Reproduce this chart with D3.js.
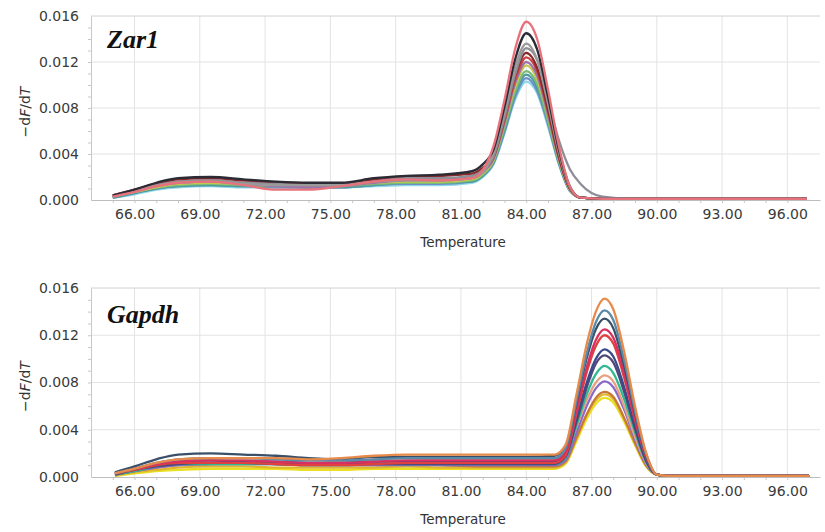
<!DOCTYPE html>
<html>
<head>
<meta charset="utf-8">
<script src="https://cdn.jsdelivr.net/npm/d3@7"></script>
<style>
  body{margin:0;background:#fff;}
  svg{font-family:"DejaVu Sans",sans-serif;}
</style>
</head>
<body>
<svg id="chart" width="825" height="532"></svg>
<script>
// tick labels
var xTickValues = [66, 69, 72, 75, 78, 81, 84, 87, 90, 93, 96];
var yTickValues = [0, 0.004, 0.008, 0.012, 0.016];

// Zar1 melt curves
var zarTemps = [65.0, 66, 67, 68, 69.5, 71, 72.5, 74, 75.5, 77, 78.5, 80, 81.5,
  82, 82.5, 83, 83.5, 84, 84.5, 85, 85.5, 86, 86.5, 87.5, 89, 96.9];
var zarColors = ["#8fd8e8", "#6f8fcc", "#4e9c9c", "#78bc78", "#c6c84e", "#9c74ac",
  "#c84444", "#8b2a2a", "#8e8e98", "#9a9a9a", "#2b2b35", "#e8727c"];
var zarValues = [
  [0.0002,0.0005,0.0009,0.0011,0.0012,0.0011,0.0011,0.0010,0.0011,0.0012,0.0013,0.0013,0.0015, 0.0020,0.0031,0.0058,0.0088,0.0103,0.0093,0.0064,0.0031,0.0008,0.0002,0.0001,0.0001,0.0001],
  [0.0002,0.0006,0.0010,0.0012,0.0013,0.0012,0.0011,0.0011,0.0011,0.0013,0.0014,0.0014,0.0016, 0.0021,0.0032,0.0059,0.0090,0.0106,0.0095,0.0066,0.0032,0.0008,0.0002,0.0001,0.0001,0.0001],
  [0.0002,0.0006,0.0010,0.0012,0.0013,0.0012,0.0012,0.0011,0.0011,0.0013,0.0015,0.0015,0.0016, 0.0021,0.0033,0.0061,0.0093,0.0109,0.0098,0.0068,0.0033,0.0009,0.0002,0.0001,0.0001,0.0001],
  [0.0003,0.0007,0.0011,0.0013,0.0014,0.0013,0.0012,0.0012,0.0012,0.0014,0.0015,0.0015,0.0017, 0.0022,0.0034,0.0063,0.0095,0.0112,0.0101,0.0069,0.0034,0.0009,0.0002,0.0001,0.0001,0.0001],
  [0.0003,0.0007,0.0011,0.0014,0.0015,0.0014,0.0013,0.0012,0.0013,0.0015,0.0016,0.0016,0.0018, 0.0023,0.0035,0.0066,0.0099,0.0117,0.0105,0.0073,0.0035,0.0009,0.0002,0.0001,0.0001,0.0001],
  [0.0003,0.0008,0.0012,0.0015,0.0016,0.0014,0.0012,0.0011,0.0012,0.0015,0.0017,0.0017,0.0019, 0.0024,0.0036,0.0067,0.0102,0.0120,0.0108,0.0074,0.0036,0.0010,0.0002,0.0001,0.0001,0.0001],
  [0.0003,0.0008,0.0013,0.0016,0.0017,0.0015,0.0014,0.0013,0.0014,0.0017,0.0018,0.0018,0.0021, 0.0026,0.0037,0.0069,0.0105,0.0124,0.0112,0.0077,0.0037,0.0010,0.0002,0.0001,0.0001,0.0001],
  [0.0004,0.0009,0.0014,0.0018,0.0019,0.0017,0.0015,0.0014,0.0014,0.0018,0.0020,0.0021,0.0023, 0.0028,0.0038,0.0072,0.0109,0.0128,0.0115,0.0079,0.0038,0.0010,0.0002,0.0001,0.0001,0.0001],
  [0.0003,0.0008,0.0013,0.0016,0.0017,0.0015,0.0014,0.0013,0.0013,0.0016,0.0019,0.0019,0.0021, 0.0026,0.0038,0.0072,0.0110,0.0132,0.0122,0.0087,0.0052,0.0027,0.0014,0.0003,0.0001,0.0001],
  [0.0003,0.0007,0.0012,0.0015,0.0016,0.0014,0.0013,0.0013,0.0013,0.0016,0.0017,0.0017,0.0019, 0.0024,0.0041,0.0076,0.0116,0.0136,0.0122,0.0084,0.0041,0.0011,0.0002,0.0001,0.0001,0.0001],
  [0.0004,0.0009,0.0015,0.0019,0.0020,0.0018,0.0016,0.0015,0.0015,0.0019,0.0021,0.0022,0.0025, 0.0031,0.0044,0.0081,0.0123,0.0145,0.0131,0.0090,0.0044,0.0012,0.0002,0.0001,0.0001,0.0001],
  [0.0003,0.0007,0.0012,0.0015,0.0016,0.0013,0.0009,0.0009,0.0012,0.0016,0.0018,0.0017,0.0019, 0.0026,0.0047,0.0087,0.0132,0.0155,0.0140,0.0096,0.0047,0.0012,0.0002,0.0001,0.0001,0.0001]
];

// Gapdh melt curves
var gapTemps = [65.1, 66, 67, 68, 69.5, 71, 72.5, 74, 75.5, 77, 78.5, 80, 82, 84, 85.3,
  85.8, 86.3, 86.8, 87.2, 87.6, 88.0, 88.5, 89.0, 89.5, 90.0, 90.5, 97.0];
var gapColors = ["#e8e020", "#e0b830", "#c8783a", "#8a6ac8", "#e8a080", "#30b890",
  "#504a7a", "#3a4a8a", "#e04040", "#d83060", "#3a5068", "#5a8aaa", "#e88a4a"];
var gapValues = [
  [0.0001,0.0003,0.0005,0.0006,0.0007,0.0007,0.0007,0.0006,0.0006,0.0007,0.0007,0.0007,0.0007,0.0007,0.0007, 0.0011,0.0030,0.0050,0.0062,0.0067,0.0063,0.0047,0.0027,0.0009,0.0002,0.0001,0.0001],
  [0.0001,0.0004,0.0006,0.0008,0.0009,0.0009,0.0008,0.0008,0.0008,0.0008,0.0009,0.0008,0.0008,0.0008,0.0008, 0.0012,0.0032,0.0053,0.0065,0.0070,0.0066,0.0049,0.0028,0.0010,0.0002,0.0001,0.0001],
  [0.0002,0.0005,0.0008,0.0010,0.0011,0.0012,0.0011,0.0010,0.0010,0.0010,0.0011,0.0010,0.0009,0.0009,0.0009, 0.0013,0.0033,0.0054,0.0067,0.0072,0.0068,0.0050,0.0029,0.0010,0.0002,0.0001,0.0001],
  [0.0002,0.0005,0.0008,0.0010,0.0011,0.0011,0.0011,0.0010,0.0010,0.0010,0.0010,0.0010,0.0010,0.0010,0.0010, 0.0014,0.0037,0.0061,0.0075,0.0081,0.0076,0.0057,0.0032,0.0011,0.0002,0.0001,0.0001],
  [0.0003,0.0007,0.0011,0.0013,0.0014,0.0013,0.0012,0.0012,0.0013,0.0015,0.0016,0.0015,0.0015,0.0015,0.0015, 0.0019,0.0042,0.0066,0.0080,0.0086,0.0081,0.0060,0.0034,0.0012,0.0002,0.0001,0.0001],
  [0.0002,0.0005,0.0009,0.0011,0.0011,0.0011,0.0011,0.0010,0.0010,0.0011,0.0011,0.0011,0.0011,0.0011,0.0011, 0.0016,0.0043,0.0071,0.0087,0.0094,0.0088,0.0066,0.0038,0.0013,0.0002,0.0001,0.0001],
  [0.0002,0.0006,0.0009,0.0011,0.0012,0.0012,0.0011,0.0011,0.0011,0.0011,0.0011,0.0011,0.0011,0.0011,0.0011, 0.0017,0.0046,0.0077,0.0096,0.0103,0.0097,0.0072,0.0041,0.0014,0.0002,0.0001,0.0001],
  [0.0003,0.0007,0.0011,0.0013,0.0014,0.0013,0.0013,0.0012,0.0012,0.0013,0.0013,0.0013,0.0013,0.0013,0.0013, 0.0019,0.0049,0.0081,0.0100,0.0108,0.0102,0.0076,0.0043,0.0015,0.0002,0.0001,0.0001],
  [0.0003,0.0006,0.0010,0.0012,0.0012,0.0012,0.0011,0.0010,0.0010,0.0011,0.0012,0.0012,0.0012,0.0012,0.0012, 0.0018,0.0053,0.0090,0.0111,0.0120,0.0113,0.0084,0.0048,0.0017,0.0002,0.0001,0.0001],
  [0.0003,0.0007,0.0011,0.0013,0.0014,0.0014,0.0013,0.0012,0.0012,0.0013,0.0014,0.0014,0.0014,0.0014,0.0014, 0.0021,0.0056,0.0094,0.0116,0.0125,0.0118,0.0088,0.0050,0.0018,0.0002,0.0001,0.0001],
  [0.0004,0.0009,0.0015,0.0019,0.0020,0.0019,0.0018,0.0016,0.0015,0.0017,0.0017,0.0017,0.0017,0.0017,0.0018, 0.0025,0.0062,0.0102,0.0125,0.0134,0.0126,0.0094,0.0054,0.0019,0.0002,0.0001,0.0001],
  [0.0003,0.0007,0.0012,0.0015,0.0016,0.0016,0.0015,0.0014,0.0014,0.0015,0.0016,0.0016,0.0016,0.0016,0.0016, 0.0024,0.0064,0.0106,0.0131,0.0141,0.0133,0.0099,0.0056,0.0020,0.0002,0.0001,0.0001],
  [0.0003,0.0007,0.0012,0.0015,0.0016,0.0016,0.0016,0.0015,0.0016,0.0018,0.0019,0.0019,0.0019,0.0019,0.0019, 0.0027,0.0069,0.0114,0.0140,0.0151,0.0142,0.0106,0.0060,0.0021,0.0002,0.0001,0.0001]
];

var svg = d3.select("#chart");

function drawPanel(canvas, o){
  var x = d3.scaleLinear().domain([64, 97.5]).range([91, 820]);
  var y = d3.scaleLinear().domain([0, 0.016]).range([o.bottom, o.top]);
  var g = canvas.append("g");

  // grid
  g.append("g").selectAll("line").data(xTickValues).join("line")
    .attr("x1", function(d){ return x(d); })
    .attr("x2", function(d){ return x(d); })
    .attr("y1", y(0)).attr("y2", y(0.016))
    .attr("stroke", "#e3e3e3");
  g.append("g").selectAll("line").data(yTickValues.slice(1)).join("line")
    .attr("x1", 91).attr("x2", 820)
    .attr("y1", function(d){ return y(d); })
    .attr("y2", function(d){ return y(d); })
    .attr("stroke", function(d){ return d == 0.016 ? "#d0d0d0" : "#e3e3e3"; });

  // minor ticks
  var mx = g.append("g").attr("transform", "translate(0," + y(0) + ")")
    .call(d3.axisBottom(x).tickValues(d3.range(65, 97)).tickSize(3).tickFormat(""));
  mx.select(".domain").remove();
  mx.selectAll("line").attr("stroke", "#c8c8c8");
  var my = g.append("g").attr("transform", "translate(91,0)")
    .call(d3.axisLeft(y).tickValues(d3.range(1, 16).map(function(k){ return k * 0.001; })).tickSize(3).tickFormat(""));
  my.select(".domain").remove();
  my.selectAll("line").attr("stroke", "#c8c8c8");

  // axes
  var xa = g.append("g").attr("transform", "translate(0," + y(0) + ")")
    .call(d3.axisBottom(x).tickValues(xTickValues).tickFormat(d3.format(".2f")).tickSize(0).tickPadding(9));
  xa.attr("font-family", null);
  xa.select(".domain").attr("stroke", "#bdbdbd");
  xa.selectAll("text").attr("font-size", 14).attr("fill", "#3a3a3a");

  var ya = g.append("g").attr("transform", "translate(91,0)")
    .call(d3.axisLeft(y).tickValues(yTickValues).tickFormat(d3.format(".3f")).tickSize(0).tickPadding(12));
  ya.attr("font-family", null);
  ya.select(".domain").attr("stroke", "#c8c8c8");
  ya.selectAll("text").attr("font-size", 14).attr("fill", "#3a3a3a");

  // curves
  var line = d3.line()
    .x(function(d, i){ return x(o.temps[i]); })
    .y(function(d){ return y(d); })
    .curve(d3.curveMonotoneX);
  g.append("g").selectAll("path").data(o.values).join("path")
    .attr("d", line)
    .attr("fill", "none")
    .attr("stroke", function(d, i){ return o.colors[i]; })
    .attr("stroke-width", 2.3)
    .attr("stroke-linejoin", "round");

  // titles
  g.append("text")
    .attr("x", 463).attr("y", o.bottom + 47)
    .attr("text-anchor", "middle").attr("font-size", 13.5).attr("fill", "#333")
    .text("Temperature");

  var yt = g.append("text")
    .attr("transform", "translate(30," + ((o.top + o.bottom) / 2 + 4) + ") rotate(-90)")
    .attr("text-anchor", "middle").attr("font-size", 14).attr("fill", "#333");
  yt.append("tspan").text("\u2212d");
  yt.append("tspan").attr("font-style", "italic").text("F");
  yt.append("tspan").text("/d");
  yt.append("tspan").attr("font-style", "italic").text("T");

  g.append("text")
    .attr("x", 107).attr("y", o.labelY)
    .attr("font-family", "'Liberation Serif', 'Times New Roman', serif")
    .attr("font-weight", "bold").attr("font-style", "italic")
    .attr("font-size", 26).attr("fill", "#111")
    .text(o.label);
}

drawPanel(svg, {top: 16, bottom: 200, temps: zarTemps, values: zarValues, colors: zarColors, label: "Zar1", labelY: 48});
drawPanel(svg, {top: 288, bottom: 477, temps: gapTemps, values: gapValues, colors: gapColors, label: "Gapdh", labelY: 323});
</script>
</body>
</html>
